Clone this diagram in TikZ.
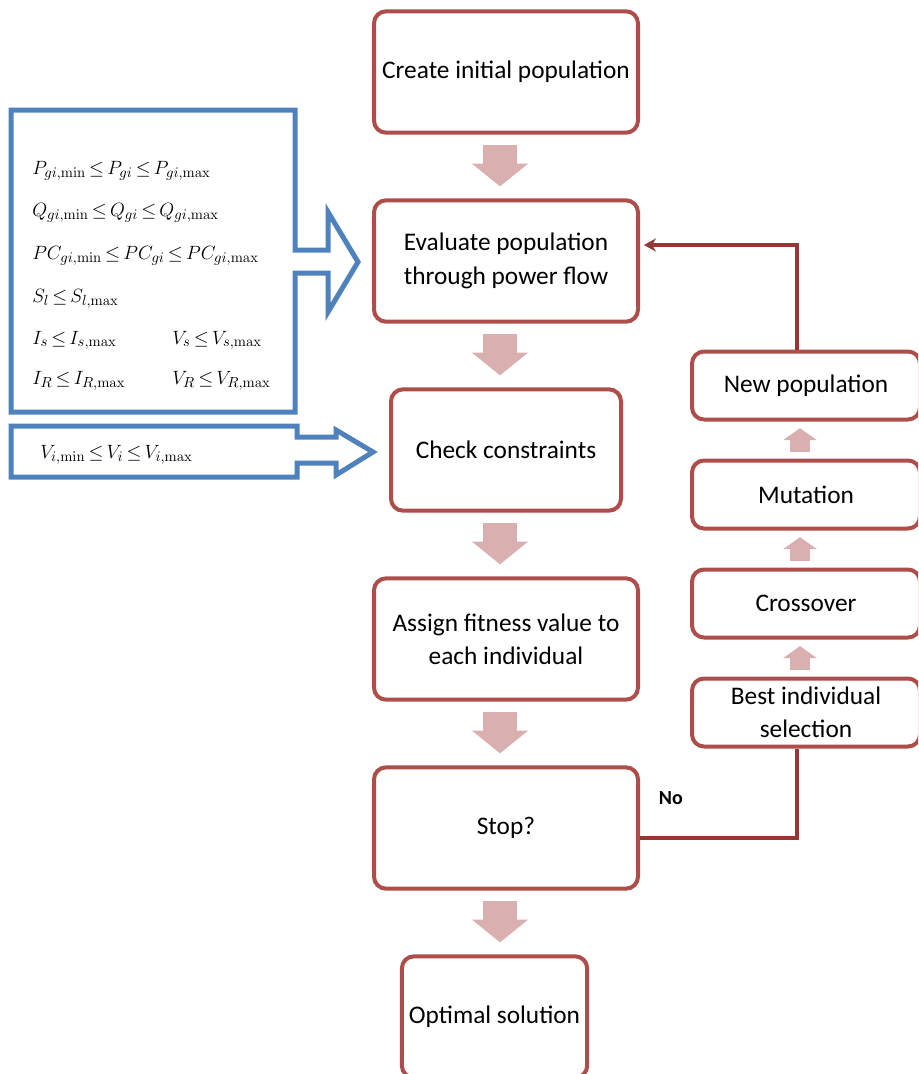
\documentclass[tikz,border=0pt]{standalone}
\usepackage{amsmath}
\usepackage{amssymb}
\usepackage[no-math]{fontspec}
\setmainfont{Carlito}
\usetikzlibrary{positioning,arrows.meta}
\definecolor{boxred}{HTML}{AD4E4B}
\definecolor{pinkarr}{HTML}{D9B0AF}
\definecolor{loopred}{HTML}{953735}
\definecolor{consblue}{HTML}{4F81BD}
\thickmuskip=3mu plus 1mu\relax

\begin{document}
\begin{tikzpicture}[x=0.75pt,y=-0.75pt,node distance=141.75pt,on grid,
  stage/.style={draw=boxred,line width=3pt,rounded corners=9pt,fill=white,align=center,
    minimum width=198pt,minimum height=91pt,font=\fontsize{19}{25}\selectfont},
  loopstage/.style={stage,minimum width=171pt,minimum height=51pt},
  flow/.style={draw=pinkarr,line width=25pt,-{Triangle[length=17pt,width=42pt,line width=0pt]},
    shorten <=8pt,shorten >=9pt},
  upflow/.style={draw=pinkarr,line width=15pt,-{Triangle[length=9pt,width=25.5pt,line width=0pt]},
    shorten <=5pt,shorten >=5pt},
  feedback/.style={draw=loopred,line width=3pt},
  limits/.style={draw=consblue,line width=3.75pt},
  cons/.style={anchor=base west,inner sep=0pt,font=\fontsize{15.5}{18}\selectfont}]
  \useasboundingbox (0,0) rectangle (918,1074);
  \clip (0,0) rectangle (918,1074);

  \node[stage]  (create)                     at (506,72) {Create initial population};
  \node[stage]  (evaluate) [below=of create]             {Evaluate population\\through power flow};
  \node[stage,minimum width=172.5pt] (check) [below=of evaluate] {Check constraints};
  \node[stage]  (assign)   [below=of check]              {Assign fitness value to\\each individual};
  \node[stage]  (stop)     [below=of assign]             {Stop?};
  \node[stage,minimum width=139pt] (optimal) [below=of stop,xshift=-8.6pt] {Optimal solution};

  \node[loopstage] (newpop)                          at (806,385.5) {New population};
  \node[loopstage] (mutation)  [below=81.75pt of newpop]            {Mutation};
  \node[loopstage] (crossover) [below=81.75pt of mutation]          {Crossover};
  \node[loopstage] (best)      [below=81.75pt of crossover]         {Best individual\\selection};

  \coordinate (mainx) at (500,0);
  \coordinate (loopx) at (800,0);
  \coordinate (loopline) at (797,0);

  \draw[flow] (create.south -| mainx)   -- (evaluate.north -| mainx);
  \draw[flow] (evaluate.south -| mainx) -- (check.north -| mainx);
  \draw[flow] (check.south -| mainx)    -- (assign.north -| mainx);
  \draw[flow] (assign.south -| mainx)   -- (stop.north -| mainx);
  \draw[flow] (stop.south -| mainx)     -- (optimal.north -| mainx);

  \draw[upflow] (best.north -| loopx)      -- (crossover.south -| loopx);
  \draw[upflow] (crossover.north -| loopx) -- (mutation.south -| loopx);
  \draw[upflow] (mutation.north -| loopx)  -- (newpop.south -| loopx);

  \draw[feedback] ([yshift=-7.5pt]stop.east) -| (best.south -| loopline)
    node[pos=0.098,above=20.5pt,font=\fontsize{15}{18}\selectfont\bfseries] (no) {No};
  \draw[feedback,-{Stealth[length=9pt,width=10pt]},shorten >=3pt]
    (newpop.north -| loopline) |- ([yshift=12pt]evaluate.east);

  \draw[limits] (11,110) -- (295,110) -- (295,250) -- (328,250) -- (328,212) -- (358,262)
    -- (328,312) -- (328,273) -- (295,273) -- (295,412) -- (11,412) -- cycle;
  \draw[limits] (11,426) -- (297,426) -- (297,437) -- (336,437) -- (336,430) -- (373,452)
    -- (336,475) -- (336,463) -- (297,463) -- (297,477) -- (11,477) -- cycle;

  \node[cons] (pg) at (32,174)  {$P_{gi,\min}\leq P_{gi}\leq P_{gi,\max}$};
  \node[cons] (qg) at (32,216)  {$Q_{gi,\min}\leq Q_{gi}\leq Q_{gi,\max}$};
  \node[cons] (pc) at (32,259)  {$PC_{gi,\min}\leq PC_{gi}\leq PC_{gi,\max}$};
  \node[cons] (sl) at (32,302)  {$S_l\leq S_{l,\max}$};
  \node[cons] (is) at (32,344)  {$I_s\leq I_{s,\max}$};
  \node[cons] (vs) at (172,344) {$V_s\leq V_{s,\max}$};
  \node[cons] (ir) at (32,384)  {$I_R\leq I_{R,\max}$};
  \node[cons] (vr) at (172,384) {$V_R\leq V_{R,\max}$};
  \node[cons] (vi) at (40,458)  {$V_{i,\min}\leq V_i\leq V_{i,\max}$};
\end{tikzpicture}
\end{document}
